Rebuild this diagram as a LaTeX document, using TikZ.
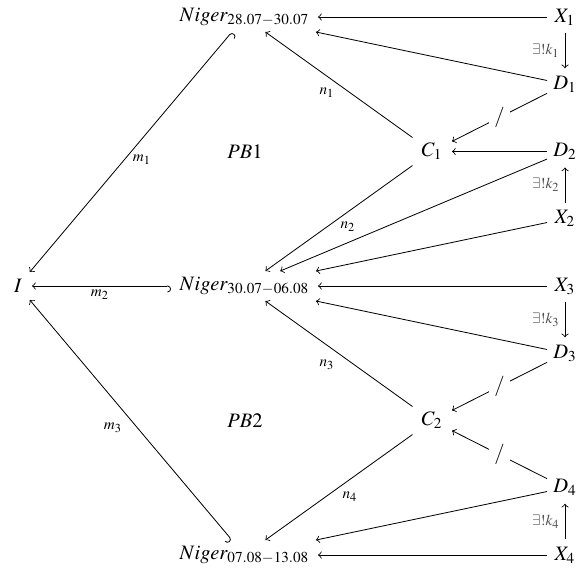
\documentclass[tikz,border=0pt]{standalone}
\usepackage{mathptmx}
\usetikzlibrary{arrows}
\tikzset{
  obj/.style={inner sep=0pt, outer sep=0pt},
  nig/.style={obj, minimum width=147*0.4878pt, minimum height=30*0.4878pt},
  cobj/.style={obj, minimum width=40*0.4878pt, minimum height=28*0.4878pt},
  xobj/.style={obj, minimum width=36*0.4878pt, minimum height=32*0.4878pt},
  iobj/.style={obj, minimum width=28*0.4878pt, minimum height=28*0.4878pt},
  arr/.style={->, line width=0.4pt},
  hk/.style={right hook->, line width=0.4pt},
  lbl/.style={inner sep=0pt},
  ex/.style={inner sep=2.5pt, text=black!70},
  sl/.style={fill=white, inner sep=2.5pt},
}
\begin{document}
\begin{tikzpicture}[x=0.4878pt, y=-0.4878pt]
\useasboundingbox (0,0) rectangle (582,567);
% objects
\node[iobj] (I) at (18,286) {$I$};
\node[nig] (Nt) at (244.5,17) {$Niger_{28.07-30.07}$};
\node[nig] (Nm) at (244.5,286) {$Niger_{30.07-06.08}$};
\node[nig] (Nb) at (244.5,555) {$Niger_{07.08-13.08}$};
\node[cobj] (C1) at (432,151.5) {$C_1$};
\node[cobj] (C2) at (432,420.5) {$C_2$};
\node[xobj] (X1) at (565,17) {$X_1$};
\node[xobj] (D1) at (565,84.25) {$D_1$};
\node[xobj] (D2) at (565,151.5) {$D_2$};
\node[xobj] (X2) at (565,218.75) {$X_2$};
\node[xobj] (X3) at (565,286) {$X_3$};
\node[xobj] (D3) at (565,353.25) {$D_3$};
\node[xobj] (D4) at (565,487.75) {$D_4$};
\node[xobj] (X4) at (565,555) {$X_4$};
\node (PB1) at (245,152) {$PB1$};
\node (PB2) at (245,421) {$PB2$};
% connectors, upper block
\draw[arr] (X1) -- (Nt);
\draw[arr] (D1) -- (Nt);
\draw[arr] (C1) -- (Nt);
\draw[arr] (X1) -- node[left, ex] (k1) {$\scriptstyle \exists!k_1$} (D1);
\draw[arr] (D1) -- node[sl] (s1) {$/$} (C1);
\draw[arr] (D2) -- (C1);
\draw[arr] (X2) -- node[left, ex] (k2) {$\scriptstyle \exists!k_2$} (D2);
\draw[arr] (C1) -- (Nm);
\draw[arr] (D2) -- (Nm);
\draw[arr] (X2) -- (Nm);
% lower block
\draw[arr] (X3) -- (Nm);
\draw[arr] (D3) -- (Nm);
\draw[arr] (X3) -- node[left, ex] (k3) {$\scriptstyle \exists!k_3$} (D3);
\draw[arr] (D3) -- node[sl] (s3) {$/$} (C2);
\draw[arr] (D4) -- node[sl] (s4) {$/$} (C2);
\draw[arr] (X4) -- node[left, ex] (k4) {$\scriptstyle \exists!k_4$} (D4);
\draw[arr] (C2) -- (Nm);
\draw[arr] (C2) -- (Nb);
\draw[arr] (D4) -- (Nb);
\draw[arr] (X4) -- (Nb);
% inclusions into I
\draw[hk] (Nt) -- (I);
\draw[hk] (Nm) -- (I);
\draw[hk] (Nb) -- (I);
% labels
\node[lbl] (n1) at (327,93) {$\scriptstyle n_1$};
\node[lbl] (n2) at (348,227) {$\scriptstyle n_2$};
\node[lbl] (n3) at (327,365) {$\scriptstyle n_3$};
\node[lbl] (n4) at (350,497) {$\scriptstyle n_4$};
\node[lbl] (m1) at (142,160) {$\scriptstyle m_1$};
\node[lbl] (m2) at (100,295) {$\scriptstyle m_2$};
\node[lbl] (m3) at (113,428) {$\scriptstyle m_3$};
\end{tikzpicture}
\end{document}
